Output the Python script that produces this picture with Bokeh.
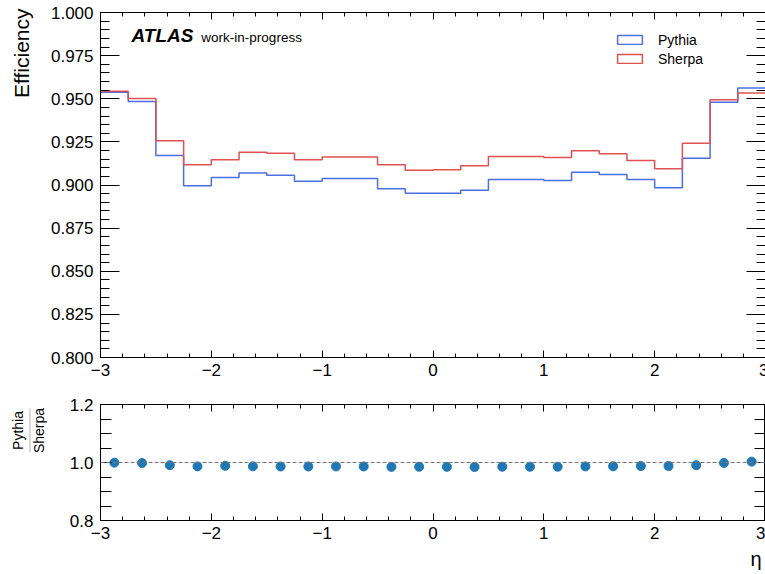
import numpy as np
from math import pi
from bokeh.plotting import figure
from bokeh.models import (Range1d, SingleIntervalTicker, LinearAxis, Label, Legend,
                          LegendItem, Span, PrintfTickFormatter, PolyAnnotation, Title)
from bokeh.layouts import column, row
from bokeh.embed import file_html
from bokeh.resources import INLINE

# ---------------- data ----------------
eta_edges = np.linspace(-3.0, 3.0, 25)          # 24 bins of width 0.25
pythia = [0.9538, 0.9484, 0.9171, 0.8995, 0.9043, 0.9069, 0.9057, 0.9022,
          0.9038, 0.9038, 0.8978, 0.8952, 0.8952, 0.8970, 0.9032, 0.9032,
          0.9026, 0.9074, 0.9061, 0.9032, 0.8984, 0.9155, 0.9480, 0.9563]
sherpa = [0.9544, 0.9501, 0.9256, 0.9117, 0.9146, 0.9190, 0.9184, 0.9146,
          0.9163, 0.9163, 0.9117, 0.9086, 0.9088, 0.9111, 0.9165, 0.9165,
          0.9159, 0.9198, 0.9181, 0.9142, 0.9094, 0.9242, 0.9494, 0.9534]
ratio = [0.9994, 0.9982, 0.9908, 0.9866, 0.9887, 0.9868, 0.9862, 0.9864,
         0.9864, 0.9864, 0.9848, 0.9853, 0.9850, 0.9845, 0.9855, 0.9855,
         0.9855, 0.9865, 0.9869, 0.9880, 0.9879, 0.9906, 0.9985, 1.0030]
x_tick_labels = {-3: "\u22123", -2: "\u22122", -1: "\u22121", 0: "0", 1: "1", 2: "2", 3: "3"}
series_names = ["Pythia", "Sherpa"]

eta_centers = (eta_edges[:-1] + eta_edges[1:]) / 2

FONT = "Liberation Sans"
BLUE = "#4a6fe3"
RED = "#e05252"
MARK = "#1f77b4"

LABEL_W = 47          # width of the strip that holds the y-axis titles
TOTAL_H = 574


def style_axis(ax, tin, minor_in, show_labels=True, fmt=None, overrides=None):
    ax.major_tick_in = tin
    ax.major_tick_out = 0
    ax.minor_tick_in = minor_in
    ax.minor_tick_out = 0
    ax.axis_line_color = "black"
    ax.major_tick_line_color = "black"
    ax.minor_tick_line_color = "black"
    ax.axis_line_width = 1
    ax.major_tick_line_width = 1
    ax.minor_tick_line_width = 1
    ax.major_label_text_font = FONT
    ax.major_label_text_color = "black"
    if show_labels:
        ax.major_label_text_font_size = "17px"
    else:
        ax.major_label_text_font_size = "0px"
        ax.major_label_standoff = 0
    if fmt is not None:
        ax.formatter = fmt
    if overrides is not None:
        ax.major_label_overrides = overrides


def add_axes(p, y_interval, y_minor, y_fmt, ytin, ymin_in):
    bx = LinearAxis(ticker=SingleIntervalTicker(interval=1, num_minor_ticks=5))
    style_axis(bx, 7, 4, True, overrides=x_tick_labels)
    bx.major_label_standoff = 6
    p.add_layout(bx, "below")
    tx = LinearAxis(ticker=SingleIntervalTicker(interval=1, num_minor_ticks=5))
    style_axis(tx, 7, 4, False)
    p.add_layout(tx, "above")
    ly = LinearAxis(ticker=SingleIntervalTicker(interval=y_interval, num_minor_ticks=y_minor))
    style_axis(ly, ytin, ymin_in, True, fmt=PrintfTickFormatter(format=y_fmt))
    ly.major_label_standoff = 7
    p.add_layout(ly, "left")
    ry = LinearAxis(ticker=SingleIntervalTicker(interval=y_interval, num_minor_ticks=y_minor))
    style_axis(ry, ytin, ymin_in, False)
    p.add_layout(ry, "right")


# ---------------- top panel ----------------
top = figure(title=None, frame_width=665, frame_height=345,
             x_range=Range1d(-3, 3), y_range=Range1d(0.8, 1.0),
             x_axis_location=None, y_axis_location=None,
             output_backend="svg", toolbar_location=None,
             min_border_left=97 - LABEL_W, min_border_right=3,
             min_border_top=12, min_border_bottom=30)
top.grid.visible = False
top.outline_line_color = "black"
add_axes(top, 0.025, 5, "%.3f", 19, 9)

py_y = list(pythia) + [pythia[-1]]
sh_y = list(sherpa) + [sherpa[-1]]
top.step(x=eta_edges, y=py_y, mode="after", line_color=BLUE, line_width=1.5)
top.step(x=eta_edges, y=sh_y, mode="after", line_color=RED, line_width=1.5)

leg_py = top.quad(left=eta_edges[:-1], right=eta_edges[1:], bottom=pythia, top=pythia,
                  fill_alpha=0, line_color=BLUE, line_width=1.5, visible=False)
leg_sh = top.quad(left=eta_edges[:-1], right=eta_edges[1:], bottom=sherpa, top=sherpa,
                  fill_alpha=0, line_color=RED, line_width=1.5, visible=False)
legend = Legend(items=[LegendItem(label=series_names[0], renderers=[leg_py]),
                       LegendItem(label=series_names[1], renderers=[leg_sh])],
                location=(514, 289), glyph_width=31, glyph_height=11,
                label_standoff=13, spacing=0, padding=0, margin=0,
                border_line_alpha=0, background_fill_alpha=0, inactive_fill_alpha=0,
                label_text_font=FONT, label_text_font_size="14px", label_height=19,
                label_text_color="black")
top.add_layout(legend)

top.add_layout(Label(x=-2.72, y=0.98655, text="ATLAS", text_font=FONT,
                     text_font_style="bold italic", text_font_size="19px",
                     text_baseline="middle", text_color="black"))
top.add_layout(Label(x=-2.09, y=0.98551, text="work-in-progress", text_font=FONT,
                     text_font_size="13.5px", text_baseline="middle", text_color="black"))

# ---------------- ratio panel ----------------
bot = figure(title=None, frame_width=665, frame_height=116,
             x_range=top.x_range, y_range=Range1d(0.8, 1.2000001),
             x_axis_location=None, y_axis_location=None,
             output_backend="svg", toolbar_location=None,
             min_border_left=97 - LABEL_W, min_border_right=3,
             min_border_top=17, min_border_bottom=TOTAL_H - 387 - 17 - 116)
bot.grid.visible = False
bot.outline_line_color = "black"
add_axes(bot, 0.2, 4, "%.1f", 11, 11)

bot.add_layout(Span(location=1.0, dimension="width", line_color="#777777",
                    line_dash="4 2", line_width=1))
bot.scatter(x=eta_centers, y=ratio, size=9, fill_color=MARK, line_color=MARK)

bot.add_layout(Title(text="\u03b7", align="right", text_font=FONT, text_font_size="20px",
                     text_font_style="normal", text_color="black", standoff=8,
                     offset=4), "below")

# ---------------- strip with the rotated y-axis titles ----------------
lab = figure(title=None, width=LABEL_W, height=TOTAL_H, x_range=Range1d(0, LABEL_W),
             y_range=Range1d(TOTAL_H, 0), x_axis_location=None, y_axis_location=None,
             output_backend="svg", toolbar_location=None,
             min_border_left=0, min_border_right=0, min_border_top=0, min_border_bottom=0)
lab.grid.visible = False
lab.outline_line_color = None
lab.add_layout(Label(x=20.5, y=8, text="Efficiency", angle=pi / 2, text_font=FONT,
                     text_font_size="21px", text_align="right", text_baseline="middle",
                     text_color="black"))
lab.add_layout(Label(x=17.7, y=430, text=series_names[0], angle=pi / 2, text_font=FONT,
                     text_font_size="14px", text_align="center", text_baseline="middle",
                     text_color="black"))
lab.add_layout(Label(x=38.3, y=430, text=series_names[1], angle=pi / 2, text_font=FONT,
                     text_font_size="14px", text_align="center", text_baseline="middle",
                     text_color="black"))
lab.add_layout(PolyAnnotation(xs=[29.5, 29.5], ys=[408, 452],
                              line_color="black", line_width=1, fill_alpha=0))

layout = row(lab, column(top, bot, spacing=0), spacing=0)
open("out.html", "w").write(file_html(layout, INLINE))
